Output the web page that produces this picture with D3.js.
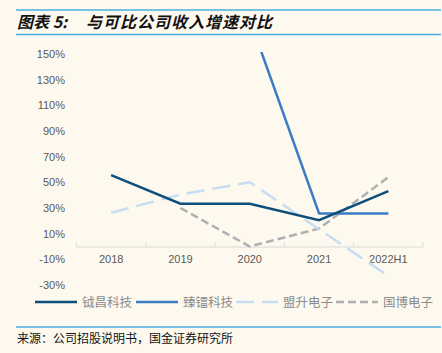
<!DOCTYPE html>
<html>
<head>
<meta charset="utf-8">
<script src="https://cdn.jsdelivr.net/npm/d3@7"></script>
<style>
  html, body { margin: 0; padding: 0; background: #fef9ef; }
  svg { display: block; }
</style>
</head>
<body>
<div class="container"></div>
<script>
var categories = ['2018', '2019', '2020', '2021', '2022H1'];
var seriesNames = ['钺昌科技', '臻镭科技', '盟升电子', '国博电子'];
var yuechang = [55.6, 33.3, 33.3, 20.5, 43.1];
var zhenlei = [null, null, 177, 25.7, 25.7];
var mengsheng = [26.3, 40.5, 50.1, 13.5, -23];
var guobo = [null, 30, 0, 14, 54];
var yTicks = [-30, -10, 10, 30, 50, 70, 90, 110, 130, 150];

var colors = ['#0d4f7c', '#3b7cc4', '#c7ddf2', '#b0b0b0'];
var dashes = [null, null, '18,8', '8,4'];

var WIDTH = 442, HEIGHT = 353;
var FONT = '"Noto Sans CJK SC", "Liberation Sans", sans-serif';

var svg = d3.select('.container').append('svg')
    .attr('width', WIDTH)
    .attr('height', HEIGHT)
    .style('background', '#fef9ef');

// header
svg.append('line').attr('x1', 16).attr('x2', 441).attr('y1', 10).attr('y2', 10)
    .attr('stroke', '#4aaee0').attr('stroke-width', 1.5);
svg.append('line').attr('x1', 16).attr('x2', 441).attr('y1', 34.5).attr('y2', 34.5)
    .attr('stroke', '#4aaee0').attr('stroke-width', 1.5);
var title = svg.append('text')
    .attr('y', 28)
    .attr('font-family', FONT)
    .attr('font-size', 16)
    .attr('font-weight', 'bold')
    .attr('font-style', 'italic')
    .attr('fill', '#111');
title.append('tspan').attr('x', 17).attr('letter-spacing', 0).text('图表 5:');
title.append('tspan').attr('x', 86).attr('letter-spacing', 1).text('与可比公司收入增速对比');

var xScale = d3.scaleBand().domain(categories).range([76.5, 423]);
var yScale = d3.scaleLinear().domain([-30, 150]).range([285, 54]);

// y labels
svg.append('g').selectAll('text')
    .data(yTicks)
    .enter()
    .append('text')
    .attr('x', 65)
    .attr('y', function (d) { return yScale(d); })
    .attr('dy', '0.35em')
    .attr('text-anchor', 'end')
    .attr('font-family', '"Liberation Sans", Arial, sans-serif')
    .attr('font-size', 11)
    .attr('fill', '#595959')
    .text(function (d) { return d + '%'; });

// x axis at 0%
var xAxis = d3.axisBottom(xScale).tickSize(0).tickPadding(9);
var gx = svg.append('g')
    .attr('transform', 'translate(0,' + yScale(0) + ')')
    .call(xAxis);
gx.select('.domain').attr('stroke', '#d9d9d9');
gx.selectAll('text')
    .attr('font-family', '"Liberation Sans", Arial, sans-serif')
    .attr('font-size', 11)
    .attr('fill', '#595959');
var bounds = xScale.range();
var tickXs = categories.map(function (c) { return xScale(c); }).concat([bounds[1]]);
gx.selectAll('.sep')
    .data(tickXs)
    .enter()
    .append('line')
    .attr('x1', function (d) { return d; })
    .attr('x2', function (d) { return d; })
    .attr('y1', 0).attr('y2', -4)
    .attr('stroke', '#d9d9d9');

// clip
svg.append('clipPath').attr('id', 'plot')
    .append('rect')
    .attr('x', 70).attr('y', yScale(150) - 2)
    .attr('width', 370).attr('height', 300);

var allSeries = [yuechang, zhenlei, mengsheng, guobo];

var line = d3.line()
    .defined(function (d) { return d !== null; })
    .x(function (d, i) { return xScale(categories[i]) + xScale.bandwidth() / 2; })
    .y(function (d) { return yScale(d); });

var drawOrder = [3, 2, 1, 0];
svg.append('g').attr('clip-path', 'url(#plot)')
    .selectAll('path')
    .data(drawOrder)
    .enter()
    .append('path')
    .attr('d', function (k) { return line(allSeries[k]); })
    .attr('fill', 'none')
    .attr('stroke', function (k) { return colors[k]; })
    .attr('stroke-width', 2.5)
    .attr('stroke-dasharray', function (k) { return dashes[k]; });

// legend
var legendX = [35, 136, 236, 336];
var legend = svg.append('g').selectAll('g')
    .data(seriesNames)
    .enter()
    .append('g')
    .attr('transform', function (d, i) { return 'translate(' + legendX[i] + ',302)'; });
legend.append('line')
    .attr('x1', 0).attr('x2', 42).attr('y1', 0).attr('y2', 0)
    .attr('stroke', function (d, i) { return colors[i]; })
    .attr('stroke-width', 2.5)
    .attr('stroke-dasharray', function (d, i) { return dashes[i]; });
legend.append('text')
    .attr('x', 47).attr('y', 0).attr('dy', '0.36em')
    .attr('font-family', FONT)
    .attr('font-size', 12.5)
    .attr('fill', '#8c8c8c')
    .text(function (d) { return d; });

// footer
svg.append('line').attr('x1', 16).attr('x2', 441).attr('y1', 327).attr('y2', 327)
    .attr('stroke', '#4aaee0').attr('stroke-width', 1.5);
svg.append('text')
    .attr('x', 17).attr('y', 343)
    .attr('font-family', FONT)
    .attr('font-size', 12)
    .attr('fill', '#111')
    .text('来源：公司招股说明书，国金证券研究所');
</script>
</body>
</html>
